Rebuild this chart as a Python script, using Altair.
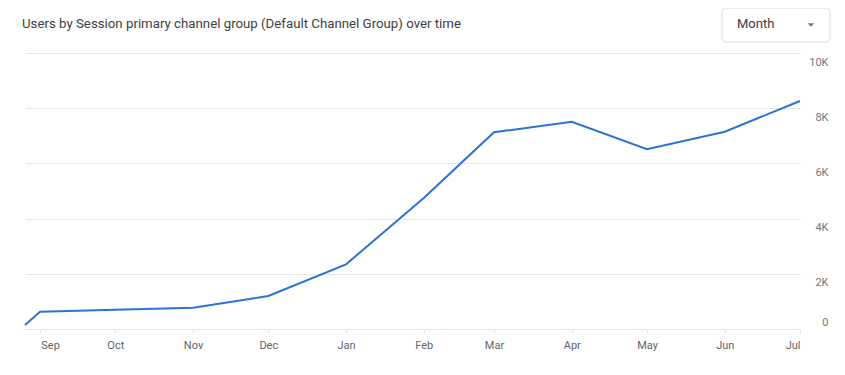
import altair as alt
import pandas as pd

# ---- data ----
dates = [
    "2022-08-26T00:00:00", "2022-09-01T00:00:00", "2022-10-01T00:00:00",
    "2022-11-01T00:00:00", "2022-12-01T00:00:00", "2023-01-01T00:00:00",
    "2023-02-01T00:00:00", "2023-03-01T00:00:00", "2023-04-01T00:00:00",
    "2023-05-01T00:00:00", "2023-06-01T00:00:00", "2023-07-01T00:00:00",
]
users = [145, 627, 700, 772, 1196, 2344, 4746, 7127, 7511, 6511, 7149, 8261]
y_ticks = [0, 2000, 4000, 6000, 8000, 10000]
tick_months = [(2022, 9), (2022, 10), (2022, 11), (2022, 12), (2023, 1), (2023, 2),
               (2023, 3), (2023, 4), (2023, 5), (2023, 6), (2023, 7)]
title_text = "Users by Session primary channel group (Default Channel Group) over time"
dropdown_label = "Month"

df = pd.DataFrame({"date": dates, "users": users})

x_values = [alt.DateTime(year=y, month=m, date=1) for y, m in tick_months]
x_domain = [alt.DateTime(year=2022, month=8, date=26), alt.DateTime(year=2023, month=7, date=1)]

FONT = "Roboto"
GRID = "#e6e6e6"
LABEL = "#5f6368"

line = alt.Chart(df).mark_line(color="#2b72d7", strokeWidth=2).encode(
    x=alt.X(
        "date:T",
        scale=alt.Scale(domain=x_domain, nice=False),
        axis=alt.Axis(
            title=None, values=x_values, format="%b", grid=False,
            domainColor=GRID, tickColor=GRID, tickSize=4,
            labelColor=LABEL, labelFontSize=11, labelPadding=6,
            labelOffset={"condition": {"test": "month(datum.value) == 8", "value": 10}, "value": 0},
        ),
    ),
    y=alt.Y(
        "users:Q",
        scale=alt.Scale(domain=[0, 10000], nice=False),
        axis=alt.Axis(
            title=None, orient="right", values=y_ticks, grid=True, gridColor=GRID,
            domain=False, ticks=False, labelAlign="right", labelPadding=28,
            labelColor="#70757a", labelFontSize=11,
            labelExpr="datum.value == 0 ? '0' : (datum.value / 1000) + 'K'",
            labelBaseline={"condition": {"test": "datum.value == 0", "value": "bottom"}, "value": "top"},
            labelOffset={"condition": {"test": "datum.value == 0", "value": -2}, "value": 3},
        ),
    ),
)

title = alt.Chart(pd.DataFrame({"t": [title_text]})).mark_text(
    align="left", baseline="middle", fontSize=13.25, font=FONT, color="#3c4043"
).encode(x=alt.value(-3), y=alt.value(-29), text="t:N")

box = alt.Chart(pd.DataFrame({"a": [0]})).mark_rect(
    fill="white", stroke="#dadce0", strokeWidth=1, cornerRadius=4
).encode(x=alt.value(697), x2=alt.value(805), y=alt.value(-45), y2=alt.value(-11))

month_txt = alt.Chart(pd.DataFrame({"t": [dropdown_label]})).mark_text(
    align="left", baseline="middle", fontSize=13, font=FONT, color="#3c4043"
).encode(x=alt.value(712), y=alt.value(-29), text="t:N")

arrow = alt.Chart(pd.DataFrame({"a": [0]})).mark_point(
    shape="M-1,-0.5L1,-0.5L0,0.5Z", filled=True, size=45, color="#757575", opacity=1
).encode(x=alt.value(786), y=alt.value(-28))

chart = alt.layer(line, title, box, month_txt, arrow).properties(
    width=775, height=276,
    padding={"left": 17, "top": 45, "right": 37, "bottom": 38},
    autosize=alt.AutoSizeParams(type="none"),
).configure_view(stroke=None).configure_axis(labelFont=FONT)

chart.save("out.html", embed_options={"renderer": "svg", "actions": False})
